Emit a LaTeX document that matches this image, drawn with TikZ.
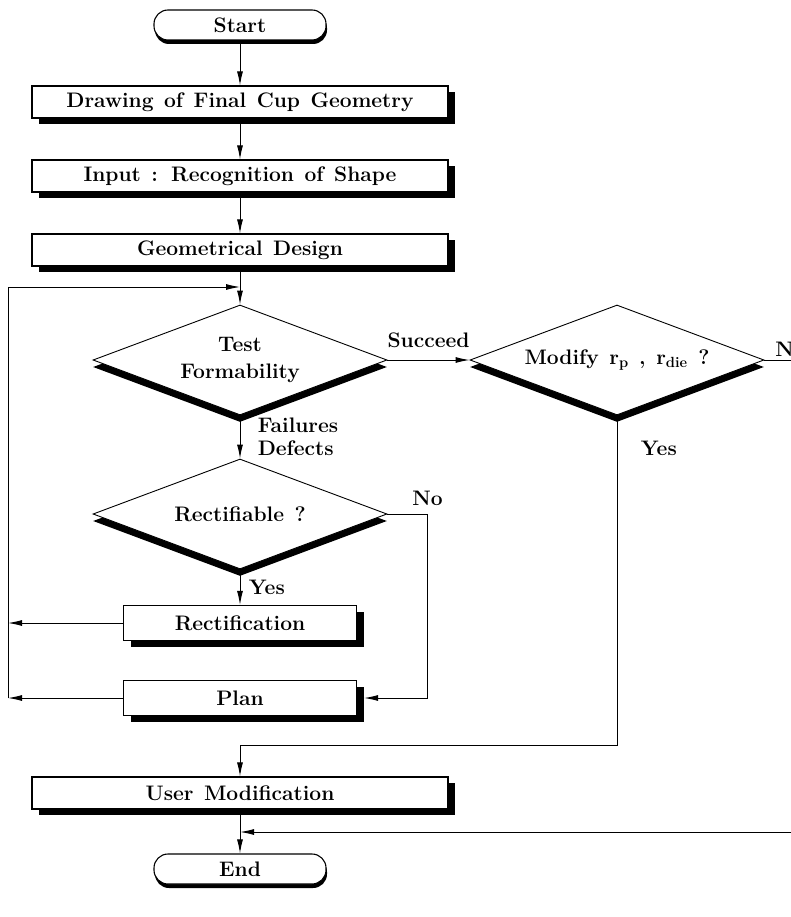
\documentclass[tikz,border=0pt]{standalone}
\usepackage{fontspec}
\usetikzlibrary{shapes.geometric, shadows, arrows.meta}
\newcommand\chartfont[1]{\fontsize{21}{#1}\selectfont\bfseries\spaceskip=0.5em\relax}
\tikzset{ b/.style = { rectangle
                       , draw
                       , line width   = 1.1pt
                       , fill         = white
                       , minimum width  = 416pt
                       , minimum height = 32pt
                       , drop shadow  = {shadow xshift = 7pt, shadow yshift = -6pt, opacity = 1, fill = black}
                       },
            d/.style = { diamond
                       , draw
                       , line width   = 0.9pt
                       , fill         = white
                       , aspect       = 2.6
                       , inner sep    = 0pt
                       , minimum width  = 294pt
                       , minimum height = 110pt
                       , drop shadow  = {shadow xshift = 0pt, shadow yshift = -7pt, opacity = 1, fill = black}
                       },
           tm/.style = { rectangle
                       , rounded corners = 14pt
                       , draw
                       , line width   = 1.1pt
                       , fill         = white
                       , minimum width  = 172pt
                       , minimum height = 30pt
                       , drop shadow  = {shadow xshift = 1pt, shadow yshift = -4pt, opacity = 1, fill = black}
                       },
           ar/.style = { -{Latex[length = 14pt, width = 6pt]}
                       , line width = 1pt
                       },
           ln/.style = { line width = 1pt }
          }

\begin{document}
\begin{tikzpicture}[x=1pt, y=-1pt, font=\chartfont{27}]
            \useasboundingbox (0,0) rectangle (791,917);
            \node[tm] (start) at (240,25)  {Start};
            \node[b]  (draw)  at (240,102) {Drawing of Final Cup Geometry};
            \node[b]  (inp)   at (240,176) {Input : Recognition of Shape};
            \node[b]  (geo)   at (240,250) {Geometrical Design};
            \node[d, align=center] (test) at (240,360) {Test\\Formability};
            \node[d]  (mod)   at (617,360) {Modify r\textsubscript{p} , r\textsubscript{die} ?};
            \node[d]  (rec)   at (240,514) {Rectifiable ?};
            \node[b, minimum width=233pt, minimum height=35pt] (fix)  at (240,623) {Rectification};
            \node[b, minimum width=233pt, minimum height=35pt] (plan) at (240,698) {Plan};
            \node[b]  (user)  at (240,793) {User Modification};
            \node[tm] (end)   at (240,869) {End};
            % free ends of the connectors
            \coordinate (lp)   at (8,287);
            \coordinate (bend) at (617,745);
            \coordinate (rt)   at (800,360);
            \coordinate (rb)   at (800,832);

            \draw[ar] (start) -- (draw);
            \draw[ar] (draw) -- (inp);
            \draw[ar] (inp) -- (geo);
            \draw[ar] (geo) -- (test);
            \draw[ar] (test) -- node[above=8pt] {Succeed} (mod);
            \draw[ar] (test) -- node[right=14pt, align=left, font=\chartfont{23}] {Failures\\Defects} (rec);
            \draw[ar] (rec) -- node[right=5pt] {Yes} (fix);
            \draw[ar] (rec.east) -- ++(40,0) node[above=5pt] {No} |- ([xshift=7pt]plan.east);
            \draw[ar] (fix.west) -- (fix.west -| lp);
            \draw[ar] (plan.west) -- (plan.west -| lp);
            \draw[ar] (plan.west -| lp) -- (lp) -- (lp -| test.north);
            \draw[ln] (mod.east) node[anchor=south west, xshift=7pt] {No} -- (rt);
            \draw[ar] (mod.south) -- node[pos=0.1, right=20pt] {Yes} (bend) -| (user.north);
            \draw[ar] (user) -- (end);
            \draw[ar] (rb) -- (rb -| user.south);
\end{tikzpicture}
\end{document}
